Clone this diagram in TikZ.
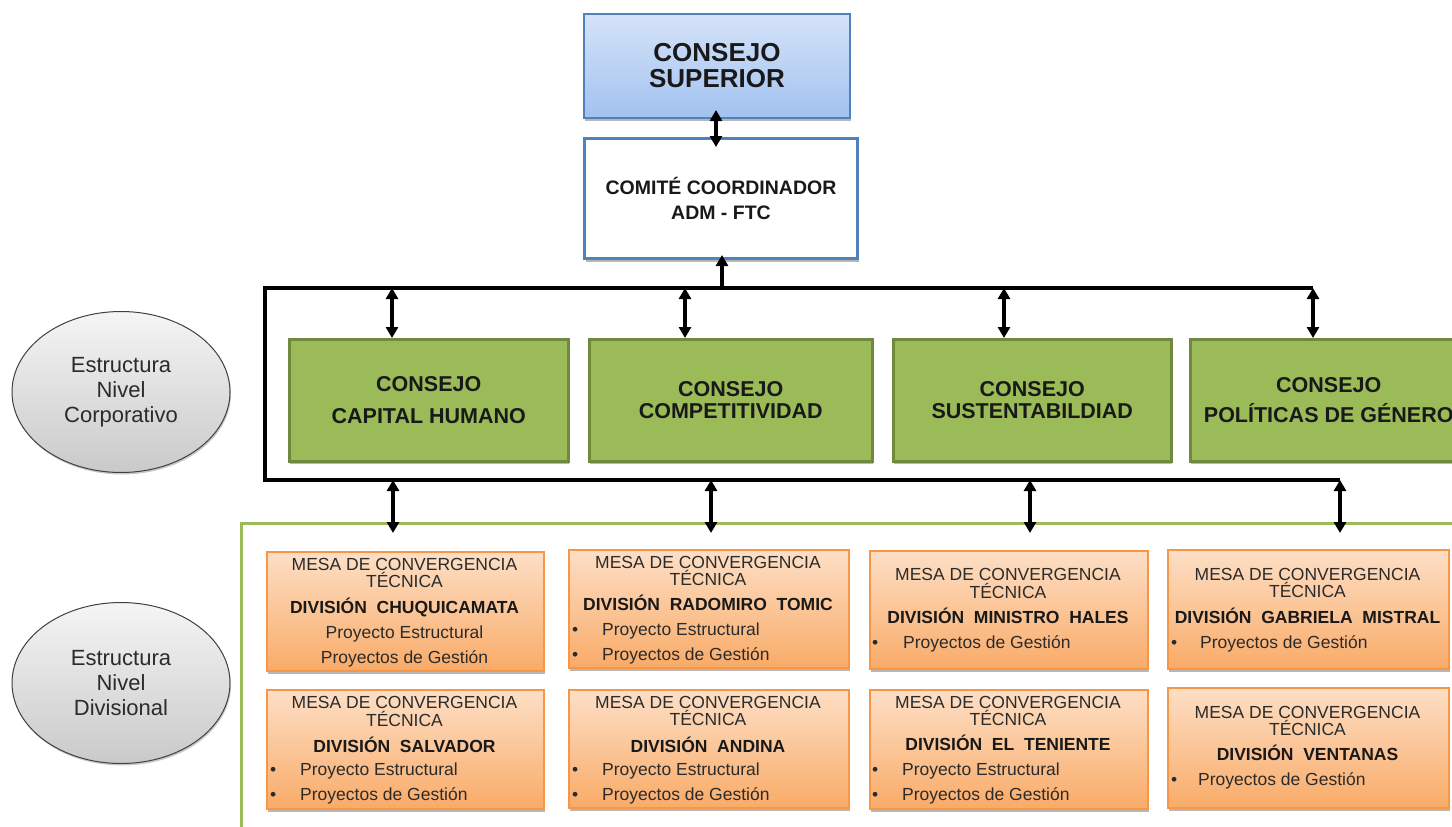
\documentclass[tikz,border=0pt]{standalone}
\usepackage{fontspec}
\setmainfont{Liberation Sans}
\usetikzlibrary{arrows.meta,shadows,shapes.geometric}
\definecolor{blueTop}{HTML}{D5E3F8}
\definecolor{blueBot}{HTML}{A2C2F0}
\definecolor{blueBorder}{HTML}{4F81BD}
\definecolor{greenFill}{HTML}{9BBB59}
\definecolor{greenBorder}{HTML}{71893F}
\definecolor{orTop}{HTML}{FDDFC6}
\definecolor{orBot}{HTML}{F9AB68}
\definecolor{orBorder}{HTML}{F79646}
\definecolor{txtGray}{HTML}{2B2B2B}
\definecolor{ellBorder}{HTML}{404040}
\begin{document}
\begin{tikzpicture}[x=1pt,y=-1pt,
  boxbase/.style={rectangle, anchor=north west, inner sep=0pt},
  shad/.style={drop shadow={shadow xshift=1pt, shadow yshift=-3pt, opacity=0.4, fill=black!70}},
  topbox/.style={boxbase, draw=blueBorder, line width=2pt, top color=blueTop, bottom color=blueBot, shad},
  combox/.style={boxbase, draw=blueBorder, line width=3pt, fill=white, shad},
  gbox/.style={boxbase, draw=greenBorder, line width=2.5pt, fill=greenFill, shad, align=center, font=\bfseries\fontsize{21.5}{32}\selectfont, text=black!90},
  obox/.style={boxbase, draw=orBorder, line width=1.5pt, top color=orTop, bottom color=orBot, shad},
  ell/.style={ellipse, draw=ellBorder, line width=1pt, top color=gray!8, bottom color=gray!42, minimum width=218pt, minimum height=161pt, inner sep=0pt, align=center, font=\fontsize{22}{25}\selectfont, text=txtGray, drop shadow={shadow xshift=1pt, shadow yshift=-2pt, opacity=0.3, fill=black!70}},
  rt/.style={inner sep=0pt, anchor=base, font=\fontsize{17.5}{17.5}\selectfont, text=txtGray},
  bt/.style={inner sep=0pt, anchor=base, font=\bfseries\fontsize{17.5}{17.5}\selectfont, text=black!90},
  lt/.style={rt, anchor=base west},
  bus/.style={line width=3.5pt, black},
  dar/.style={line width=3.2pt, black, {Triangle[length=11pt,width=12pt]}-{Triangle[length=11pt,width=12pt]}},
  sar/.style={line width=3.2pt, black, -{Triangle[length=11pt,width=12pt]}},
  frame/.style={line width=3pt, greenFill}
]
\useasboundingbox (0,0) rectangle (1452,827);
\clip (0,0) rectangle (1452,827);

% ---------- top ----------
\node[topbox, minimum width=266pt, minimum height=104pt, align=center,
      font=\bfseries\fontsize{26}{26}\selectfont, text=black!90] (cs) at (583,13) {CONSEJO\\SUPERIOR};
\node[combox, minimum width=273pt, minimum height=120pt, align=center,
      font=\bfseries\fontsize{19.5}{25}\selectfont, text=black!90] (cc) at (583,137) {COMITÉ COORDINADOR\\ADM - FTC};

\coordinate (a1) at (716,110);
\coordinate (a2) at (716,147);
\draw[dar] (a1) -- (a2);

% ---------- ellipses ----------
\node[ell] (e1) at (121,392) {Estructura\\Nivel\\Corporativo};
\node[ell] (e2) at (121,683) {Estructura\\Nivel\\Divisional};

% ---------- green frame ----------
\coordinate (f1) at (1460,523);
\coordinate (f2) at (241,523);
\coordinate (f3) at (241,840);
\draw[frame] (f1) -- (f2) -- (f3);

% ---------- green boxes ----------
\node[gbox, minimum width=279pt, minimum height=122pt] (g1) at (288,338) {CONSEJO\\CAPITAL HUMANO};
\node[gbox, minimum width=283pt, minimum height=122pt, font=\bfseries\fontsize{21.5}{22}\selectfont] (g2) at (588,338) {CONSEJO\\COMPETITIVIDAD};
\node[gbox, minimum width=278pt, minimum height=122pt, font=\bfseries\fontsize{21.5}{22}\selectfont] (g3) at (892,338) {CONSEJO\\SUSTENTABILDIAD};
\node[gbox, minimum width=277pt, minimum height=122pt, font=\bfseries\fontsize{21.5}{30}\selectfont] (g4) at (1189,338) {CONSEJO\\POLÍTICAS DE GÉNERO};

% ---------- bus ----------
\coordinate (bt4) at (1313,288);
\coordinate (btl) at (265,288);
\coordinate (bbl) at (265,480);
\coordinate (bb4) at (1340,480);
\draw[bus] (bt4) -- (btl) -- (bbl) -- (bb4);

\coordinate (bt1) at (392,288);
\coordinate (bt2) at (685,288);
\coordinate (bt3) at (1004,288);
\coordinate (bc) at (722,288);
\coordinate (cct) at (722,255);
\draw[sar] (bc) -- (cct);
\draw[dar] (bt1) -- (bt1 |- g1.north);
\draw[dar] (bt2) -- (bt2 |- g2.north);
\draw[dar] (bt3) -- (bt3 |- g3.north);
\draw[dar] (bt4) -- (bt4 |- g4.north);

\coordinate (bb1) at (393,480);
\coordinate (bb2) at (711,480);
\coordinate (bb3) at (1030,480);
\coordinate (d1) at (393,533);
\coordinate (d2) at (711,533);
\coordinate (d3) at (1030,533);
\coordinate (d4) at (1340,533);
\draw[dar] (bb1) -- (d1);
\draw[dar] (bb2) -- (d2);
\draw[dar] (bb3) -- (d3);
\draw[dar] (bb4) -- (d4);

% ---------- orange boxes ----------
\node[obox, minimum width=277pt, minimum height=119pt] (o11) at (266,551) {};
\node[obox, minimum width=280pt, minimum height=118pt] (o12) at (568,549) {};
\node[obox, minimum width=278pt, minimum height=118pt] (o13) at (869,550) {};
\node[obox, minimum width=281pt, minimum height=119pt] (o14) at (1167,549) {};
\node[obox, minimum width=277pt, minimum height=119pt] (o21) at (266,689) {};
\node[obox, minimum width=280pt, minimum height=118pt] (o22) at (568,689) {};
\node[obox, minimum width=278pt, minimum height=119pt] (o23) at (869,689) {};
\node[obox, minimum width=281pt, minimum height=120pt] (o24) at (1167,687) {};

% col 1 row 1
\node[rt] (t11a) at (404.5,570) {MESA DE CONVERGENCIA};
\node[rt] (t11b) at (404.5,587) {TÉCNICA};
\node[bt] (t11c) at (404.5,613) {DIVISIÓN~~CHUQUICAMATA};
\node[rt] (t11d) at (404.5,638) {Proyecto Estructural};
\node[rt] (t11e) at (404.5,663) {Proyectos de Gestión};
% col 2 row 1
\node[rt] (t12a) at (708,568) {MESA DE CONVERGENCIA};
\node[rt] (t12b) at (708,585) {TÉCNICA};
\node[bt] (t12c) at (708,610) {DIVISIÓN~~RADOMIRO~~TOMIC};
\node[lt] (t12d0) at (572,635) {•};
\node[lt] (t12d) at (602,635) {Proyecto Estructural};
\node[lt] (t12e0) at (572,660) {•};
\node[lt] (t12e) at (602,660) {Proyectos de Gestión};
% col 3 row 1
\node[rt] (t13a) at (1008,580) {MESA DE CONVERGENCIA};
\node[rt] (t13b) at (1008,598) {TÉCNICA};
\node[bt] (t13c) at (1008,623) {DIVISIÓN~~MINISTRO~~HALES};
\node[lt] (t13d0) at (872,648) {•};
\node[lt] (t13d) at (903,648) {Proyectos de Gestión};
% col 4 row 1
\node[rt] (t14a) at (1307.5,580) {MESA DE CONVERGENCIA};
\node[rt] (t14b) at (1307.5,597) {TÉCNICA};
\node[bt] (t14c) at (1307.5,623) {DIVISIÓN~~GABRIELA~~MISTRAL};
\node[lt] (t14d0) at (1171,648) {•};
\node[lt] (t14d) at (1200,648) {Proyectos de Gestión};
% col 1 row 2
\node[rt] (t21a) at (404.5,708) {MESA DE CONVERGENCIA};
\node[rt] (t21b) at (404.5,726) {TÉCNICA};
\node[bt] (t21c) at (404.5,752) {DIVISIÓN~~SALVADOR};
\node[lt] (t21d0) at (270,775) {•};
\node[lt] (t21d) at (300,775) {Proyecto Estructural};
\node[lt] (t21e0) at (270,800) {•};
\node[lt] (t21e) at (300,800) {Proyectos de Gestión};
% col 2 row 2
\node[rt] (t22a) at (708,708) {MESA DE CONVERGENCIA};
\node[rt] (t22b) at (708,725) {TÉCNICA};
\node[bt] (t22c) at (708,752) {DIVISIÓN~~ANDINA};
\node[lt] (t22d0) at (572,775) {•};
\node[lt] (t22d) at (602,775) {Proyecto Estructural};
\node[lt] (t22e0) at (572,800) {•};
\node[lt] (t22e) at (602,800) {Proyectos de Gestión};
% col 3 row 2
\node[rt] (t23a) at (1008,708) {MESA DE CONVERGENCIA};
\node[rt] (t23b) at (1008,725) {TÉCNICA};
\node[bt] (t23c) at (1008,750) {DIVISIÓN~~EL~~TENIENTE};
\node[lt] (t23d0) at (872,775) {•};
\node[lt] (t23d) at (902,775) {Proyecto Estructural};
\node[lt] (t23e0) at (872,800) {•};
\node[lt] (t23e) at (902,800) {Proyectos de Gestión};
% col 4 row 2
\node[rt] (t24a) at (1307.5,718) {MESA DE CONVERGENCIA};
\node[rt] (t24b) at (1307.5,735) {TÉCNICA};
\node[bt] (t24c) at (1307.5,760) {DIVISIÓN~~VENTANAS};
\node[lt] (t24d0) at (1171,785) {•};
\node[lt] (t24d) at (1198,785) {Proyectos de Gestión};
\end{tikzpicture}
\end{document}
